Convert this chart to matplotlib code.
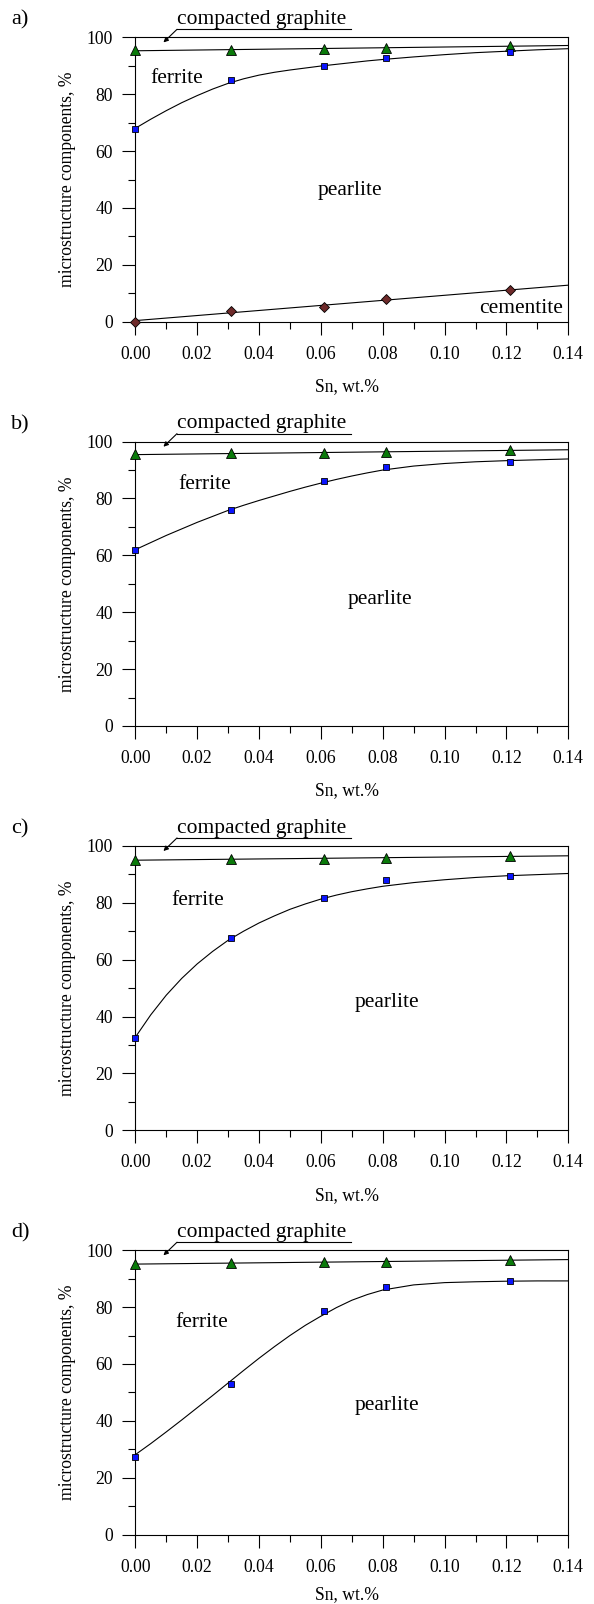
import numpy as np
import matplotlib
matplotlib.use('Agg')
from matplotlib import pyplot as plt
from matplotlib.ticker import MultipleLocator

plt.rcParams['font.family'] = ['Liberation Serif', 'DejaVu Serif']

# measured Sn contents
sn = [0.0, 0.031, 0.061, 0.081, 0.121]

# graphite / ferrite boundary (triangles) and ferrite / pearlite boundary (squares)
graphite_a = [95.4, 95.7, 95.9, 96.1, 97.1]
ferrite_a = [67.9, 85.0, 89.9, 92.8, 94.8]
cementite_a = [0.0, 3.9, 5.2, 8.0, 11.0]

graphite_b = [95.5, 95.9, 96.0, 96.2, 97.1]
ferrite_b = [62.0, 76.1, 86.0, 91.1, 93.0]

graphite_c = [95.0, 95.4, 95.5, 95.8, 96.4]
ferrite_c = [32.6, 67.6, 81.7, 87.9, 89.4]

graphite_d = [95.1, 95.5, 95.8, 96.0, 96.5]
ferrite_d = [27.3, 52.8, 78.7, 87.0, 89.0]

# smooth trend curves through the squares
curve_x = [0.0, 0.005, 0.01, 0.015, 0.02, 0.025, 0.03, 0.035, 0.04, 0.045,
           0.05, 0.055, 0.06, 0.065, 0.07, 0.075, 0.08, 0.09, 0.10, 0.11,
           0.12, 0.13, 0.14]
curve_a = [68.0, 71.2, 74.2, 77.0, 79.5, 81.8, 83.8, 85.4, 86.7, 87.7,
           88.5, 89.2, 89.9, 90.5, 91.1, 91.7, 92.2, 93.1, 93.9, 94.6,
           95.1, 95.6, 96.0]
curve_b = [62.0, 64.5, 67.0, 69.3, 71.6, 73.7, 75.8, 77.6, 79.3, 80.9,
           82.5, 84.0, 85.4, 86.7, 87.9, 89.0, 90.0, 91.4, 92.3, 92.9,
           93.3, 93.6, 93.9]
curve_c = [32.7, 40.6, 47.5, 53.4, 58.5, 62.9, 66.8, 70.0, 72.9, 75.4,
           77.7, 79.6, 81.3, 82.7, 83.9, 84.9, 85.8, 87.1, 88.1, 88.9,
           89.5, 89.9, 90.3]
curve_d = [28.1, 32.0, 36.1, 40.3, 44.6, 48.9, 53.3, 57.7, 62.0, 66.1,
           70.0, 73.6, 76.8, 79.8, 82.4, 84.4, 86.0, 87.8, 88.6, 88.9,
           89.1, 89.2, 89.2]

panel_labels = ['a)', 'b)', 'c)', 'd)']
graphites = [graphite_a, graphite_b, graphite_c, graphite_d]
ferrites = [ferrite_a, ferrite_b, ferrite_c, ferrite_d]
curves = [curve_a, curve_b, curve_c, curve_d]
# (x, y) of the "ferrite" and "pearlite" labels
ferrite_pos = [(0.0048, 85.5), (0.0138, 84.8), (0.0118, 80.9), (0.0128, 74.7)]
pearlite_pos = [(0.0694, 46.3), (0.0790, 44.5), (0.0814, 45.1), (0.0814, 45.3)]

W, H = 594, 1604
fig = plt.figure(figsize=(W / 100, H / 100), dpi=100)

ax_left = 135.3 / W
ax_w = 433 / W
ax_h_px = 284.4
tick_fs = 12.7
note_fs = 15.5
xfit = np.array([0.0, 0.14])

for i in range(4):
    top = 37.3 + 404.3 * i
    ax = fig.add_axes([ax_left, 1 - (top + ax_h_px) / H, ax_w, ax_h_px / H])
    ax.set_xlim(0, 0.14)
    ax.set_ylim(0, 100)

    g = graphites[i]
    k, b = np.polyfit(sn, g, 1)
    ax.plot(xfit, k * xfit + b, color='black', lw=0.8)
    ax.plot(curve_x, curves[i], color='black', lw=0.8)
    ax.plot(sn, g, ls='none', marker='^', ms=6.5, mfc='#0a7a0a', mec='black',
            mew=0.6, clip_on=False, zorder=3)
    ax.plot(sn, ferrites[i], ls='none', marker='s', ms=5, mfc='#0a14ff', mec='black',
            mew=0.6, clip_on=False, zorder=3)

    if i == 0:
        k, b = np.polyfit(sn, cementite_a, 1)
        ax.plot(xfit, k * xfit + b, color='black', lw=0.8)
        ax.plot(sn, cementite_a, ls='none', marker='D', ms=5, mfc='#6e2a2a', mec='black',
                mew=0.6, clip_on=False, zorder=3)
        ax.text(0.1112, 4.7, 'cementite', fontsize=note_fs, va='center', ha='left')

    ax.text(ferrite_pos[i][0], ferrite_pos[i][1], 'ferrite', fontsize=note_fs,
            va='center', ha='left')
    ax.text(pearlite_pos[i][0], pearlite_pos[i][1], 'pearlite', fontsize=note_fs,
            va='center', ha='center')

    # "compacted graphite" note with underline and leader arrow
    ax.text(0.0956, 1.047, 'compacted graphite', transform=ax.transAxes,
            fontsize=note_fs, va='baseline', ha='left')
    ax.plot([0.0963, 0.4993], [1.028, 1.028], transform=ax.transAxes,
            color='black', lw=0.8, clip_on=False)
    ax.annotate('', xy=(0.065, 0.982), xycoords='axes fraction',
                xytext=(0.0963, 1.028), textcoords='axes fraction',
                arrowprops=dict(arrowstyle='-|>', color='black', lw=0.8,
                                mutation_scale=7, shrinkA=0, shrinkB=0))

    ax.xaxis.set_major_locator(MultipleLocator(0.02))
    ax.xaxis.set_minor_locator(MultipleLocator(0.01))
    ax.yaxis.set_major_locator(MultipleLocator(20))
    ax.yaxis.set_minor_locator(MultipleLocator(10))
    ax.xaxis.set_major_formatter(matplotlib.ticker.FormatStrFormatter('%.2f'))
    ax.tick_params(which='both', direction='out', width=0.8, top=False, right=False,
                   labelsize=tick_fs)
    ax.tick_params(which='major', length=9.4)
    ax.tick_params(which='minor', length=5)
    ax.tick_params(axis='x', which='major', pad=8)
    ax.tick_params(axis='y', which='major', pad=6.5)
    for sp in ax.spines.values():
        sp.set_linewidth(0.8)

    ax.set_xlabel('Sn, wt.%', fontsize=tick_fs, va='center')
    # the last label sits at the very bottom edge; lift it a little to stay inside
    ax.xaxis.set_label_coords(0.49, -0.228 if i < 3 else -0.21)
    ax.set_ylabel('microstructure components, %', fontsize=tick_fs, va='center')
    ax.yaxis.set_label_coords(-0.157, 0.5)

    fig.text(20 / W, 1 - (top - 17) / H, panel_labels[i], fontsize=16,
             ha='center', va='center')

fig.savefig('out.png', dpi=100)
